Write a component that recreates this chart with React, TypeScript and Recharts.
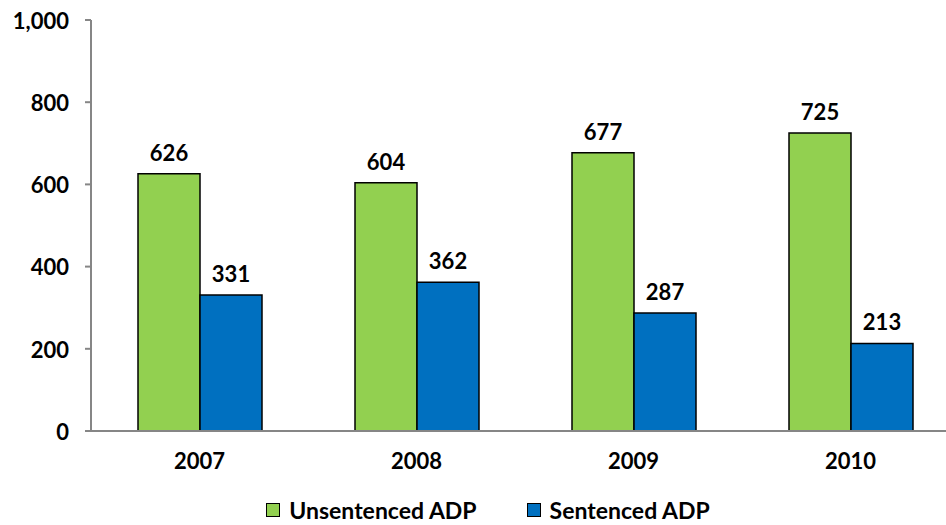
import React from "react";
import { BarChart, Bar, XAxis, YAxis, Legend, LabelList } from "recharts";

const years = ["2007", "2008", "2009", "2010"];
const unsentenced = [626, 604, 677, 725];
const sentenced = [331, 362, 287, 213];
const yTicks = [0, 200, 400, 600, 800, 1000];

const data = years.map((y, i) => ({ year: y, unsentenced: unsentenced[i], sentenced: sentenced[i] }));

const FONT = "Lato, 'Open Sans', sans-serif";
const fmt = (v: number) => v.toLocaleString("en-US");

const legendItems = [
  { label: "Unsentenced ADP", color: "#92D050" },
  { label: "Sentenced ADP", color: "#0070C0" },
];

const LegendContent = () => (
  <div style={{ height: 30, boxSizing: "border-box", paddingTop: 0 }}>
    <div style={{ display: "flex", justifyContent: "center", gap: 50, height: 20, alignItems: "center", fontFamily: FONT, fontWeight: 700, fontSize: 23, color: "#000", paddingLeft: 30, lineHeight: "20px" }}>
      {legendItems.map((it) => (
        <div key={it.label} style={{ display: "flex", alignItems: "center" }}>
          <span style={{ display: "inline-block", width: 12, height: 12, background: it.color, border: "1.5px solid #000", marginRight: 9 }} />
          <span>{it.label}</span>
        </div>
      ))}
    </div>
  </div>
);

export default function App() {
  return (
    <div style={{ position: "absolute", left: 0, top: 0, width: 946, height: 525, overflow: "hidden", background: "#fff" }}>
      <BarChart
        width={960}
        height={530}
        data={data}
        margin={{ top: 20, right: 1, bottom: 0, left: 0 }}
        barGap={0}
        barSize={62}
      >
        <YAxis
          domain={[0, 1000]}
          ticks={yTicks}
          width={91}
          tickFormatter={fmt}
          axisLine={{ stroke: "#868686", strokeWidth: 2 }}
          tickLine={{ stroke: "#868686", strokeWidth: 2 }}
          tickSize={6}
          tickMargin={16}
          tick={{ fill: "#000", fontFamily: FONT, fontWeight: 700, fontSize: 22, dy: 1 }}
        />
        <XAxis
          dataKey="year"
          height={69}
          axisLine={{ stroke: "#868686", strokeWidth: 2 }}
          tickLine={false}
          tick={{ fill: "#000", fontFamily: FONT, fontWeight: 700, fontSize: 22, dy: 14 }}
        />
        <Legend verticalAlign="bottom" height={30} content={<LegendContent />} wrapperStyle={{ top: 500, left: 0, width: 946, height: 30 }} />
        <Bar dataKey="unsentenced" fill="#92D050" stroke="#000" strokeWidth={1.5} isAnimationActive={false}>
          <LabelList dataKey="unsentenced" position="top" offset={13} style={{ fill: "#000", fontFamily: FONT, fontWeight: 700, fontSize: 22 }} />
        </Bar>
        <Bar dataKey="sentenced" fill="#0070C0" stroke="#000" strokeWidth={1.5} isAnimationActive={false}>
          <LabelList dataKey="sentenced" position="top" offset={13} style={{ fill: "#000", fontFamily: FONT, fontWeight: 700, fontSize: 22 }} />
        </Bar>
      </BarChart>
    </div>
  );
}
